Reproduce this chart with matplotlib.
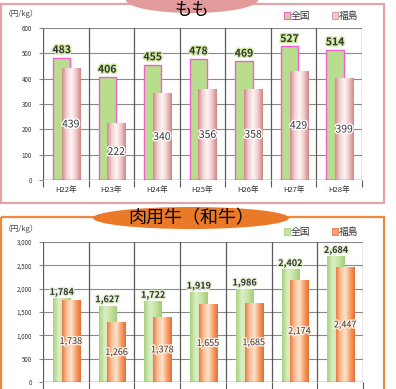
import matplotlib
matplotlib.use("Agg")
import matplotlib.pyplot as plt
import numpy as np
from matplotlib.patches import Ellipse, Rectangle
from matplotlib.colors import LinearSegmentedColormap
import matplotlib.patheffects as pe

plt.rcParams['font.family'] = ['Noto Sans CJK JP', 'DejaVu Sans']

years = ["H22年", "H23年", "H24年", "H25年", "H26年", "H27年", "H28年"]
momo_national = [483, 406, 455, 478, 469, 527, 514]
momo_fukushima = [439, 222, 340, 356, 358, 429, 399]
beef_national = [1784, 1627, 1722, 1919, 1986, 2402, 2684]
beef_fukushima = [1738, 1266, 1378, 1655, 1685, 2174, 2447]

W, H = 396, 389
fig = plt.figure(figsize=(W / 100, H / 100), dpi=100)


def fr(x0, y0, x1, y1):
    return [x0 / W, 1 - y1 / H, (x1 - x0) / W, (y1 - y0) / H]


# overlay for frames / titles in pixel coordinates
ov = fig.add_axes([0, 0, 1, 1], zorder=0)
ov.set_xlim(0, W)
ov.set_ylim(H, 0)
ov.axis('off')
ov.add_patch(Rectangle((1, 4), 383, 199, fill=False, ec='#e2a4a4', lw=1.6))
ov.add_patch(Rectangle((1, 217), 383, 190, fill=False, ec='#ee8a3a', lw=1.6))

fig_ov = fig.add_axes([0, 0, 1, 1], zorder=5)
fig_ov.set_xlim(0, W)
fig_ov.set_ylim(H, 0)
fig_ov.axis('off')
fig_ov.patch.set_alpha(0)
fig_ov.add_patch(Ellipse((192, 0), 132, 26, fc='#e39a9a', ec='none'))
fig_ov.text(192, 1, "もも", ha='center', va='top', fontsize=12.5, color='black')
fig_ov.add_patch(Ellipse((191, 218), 196, 22, fc='#ea7a28', ec='none'))
fig_ov.text(191, 218, "肉用牛（和牛）", ha='center', va='center', fontsize=13, color='black')
fig_ov.text(4, 14, "（円/kg）", fontsize=5.5, color='#444444', va='center')
fig_ov.text(4, 229, "（円/kg）", fontsize=5.5, color='#444444', va='center')


def grad_bar(ax, x0, w, h, colors, z):
    cmap = LinearSegmentedColormap.from_list('g', colors)
    g = np.linspace(0, 1, 64).reshape(1, -1)
    ax.imshow(g, cmap=cmap, extent=[x0, x0 + w, 0, h], aspect='auto', zorder=z,
              interpolation='bilinear')


def setup(ax, ymax, step, fmt):
    n = len(years)
    ax.set_xlim(-0.5, n - 0.5)
    ax.set_ylim(0, ymax)
    for s in ax.spines.values():
        s.set_visible(False)
    yt = np.arange(0, ymax + 1, step)
    for v in yt[1:]:
        ax.axhline(v, color='#8a8a8a', lw=0.8, zorder=1)
    ax.axhline(0, color='#666666', lw=1.0, zorder=6)
    for b in np.arange(-0.5, n, 1.0):
        ax.axvline(b, color='#5a5a5a', lw=0.9, zorder=1)
    ax.set_yticks(yt)
    ax.set_yticklabels([fmt(v) for v in yt], fontsize=4.5, color='#333333')
    ax.tick_params(axis='y', length=3, width=0.8, color='#8a8a8a', pad=5)
    ax.set_xticks(np.arange(-0.5, n, 1.0), minor=True)
    ax.set_xticks(np.arange(n))
    ax.tick_params(axis='x', which='major', length=0, pad=4)
    ax.tick_params(axis='x', which='minor', length=5, width=0.8, color='#5a5a5a')


# ---------------- top chart: もも ----------------
ax1 = fig.add_axes(fr(43, 28, 362, 180), zorder=2)
setup(ax1, 600, 100, lambda v: f"{v:d}")
x = np.arange(len(years))
gw, pw = 0.38, 0.40
goff, poff = -0.09, 0.11
ax1.bar(x + goff, momo_national, gw, color='#b7dd8d', ec='#f25fd0', lw=1.0, zorder=3)
pink = ['#d38c8c', '#f3d2d2', '#fff6f6', '#f0c8c8', '#d08585']
for i, v in enumerate(momo_fukushima):
    grad_bar(ax1, x[i] + poff - pw / 2, pw, v, pink, 4)
ax1.set_xlim(-0.5, len(years) - 0.5)
ax1.set_ylim(0, 600)
ax1.set_xticklabels(years, fontsize=5.5, color='#333333')
for i, v in enumerate(momo_national):
    ax1.text(x[i] + goff, v + 10, f"{v}", ha='center', va='bottom', fontsize=7.5,
             fontweight='bold', color='#333333', zorder=7,
             path_effects=[pe.withStroke(linewidth=2, foreground='#cfeaa0')])
for i, v in enumerate(momo_fukushima):
    ax1.text(x[i] + poff, v / 2, f"{v}", ha='center', va='center', fontsize=7.5,
             color='#333333', zorder=7,
             path_effects=[pe.withStroke(linewidth=2, foreground='white')])

# legend top
fig_ov.add_patch(Rectangle((284, 12), 6, 7, fc='#b7dd8d', ec='#f25fd0', lw=0.8))
fig_ov.text(291, 15.5, "全国", fontsize=7, va='center', color='#333333')
fig_ov.add_patch(Rectangle((332, 12), 6, 7, fc='#f0c8c8', ec='#d08585', lw=0.5))
fig_ov.text(339, 15.5, "福島", fontsize=7, va='center', color='#333333')

# ---------------- bottom chart: 肉用牛 ----------------
ax2 = fig.add_axes(fr(43, 242, 363, 382), zorder=2)
setup(ax2, 3000, 500, lambda v: f"{v:,d}")
green = ['#a9d27f', '#dcefc6', '#c4e3a2', '#a3cc78']
orange = ['#ee7a42', '#fbc29a', '#fde2cc', '#f7a06a', '#e86e36']
for i, v in enumerate(beef_national):
    grad_bar(ax2, x[i] + goff - gw / 2, gw, v, green, 3)
for i, v in enumerate(beef_fukushima):
    grad_bar(ax2, x[i] + poff - pw / 2, pw, v, orange, 4)
ax2.set_xlim(-0.5, len(years) - 0.5)
ax2.set_ylim(0, 3000)
ax2.set_xticklabels([])
for i, v in enumerate(beef_national):
    ax2.text(x[i] + goff, v + 40, f"{v:,d}", ha='center', va='bottom', fontsize=6.5,
             fontweight='bold', color='#333333', zorder=7,
             path_effects=[pe.withStroke(linewidth=2, foreground='#e4f2d0')])
for i, v in enumerate(beef_fukushima):
    ax2.text(x[i] + poff, v / 2, f"{v:,d}", ha='center', va='center', fontsize=6.5,
             color='#333333', zorder=7,
             path_effects=[pe.withStroke(linewidth=2, foreground='#fff0e4')])

fig_ov.add_patch(Rectangle((284, 228), 6, 7, fc='#c4e3a2', ec='#a3cc78', lw=0.5))
fig_ov.text(291, 231.5, "全国", fontsize=7, va='center', color='#333333')
fig_ov.add_patch(Rectangle((332, 228), 6, 7, fc='#f7a06a', ec='#e86e36', lw=0.5))
fig_ov.text(339, 231.5, "福島", fontsize=7, va='center', color='#333333')

fig.savefig("out.png", dpi=100)
